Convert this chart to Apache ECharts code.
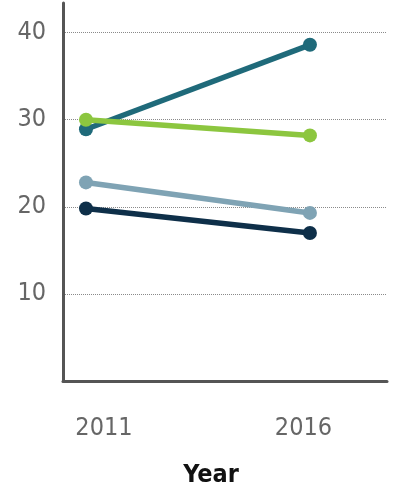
<!DOCTYPE html>
<html>
<head>
<meta charset="utf-8">
<script src="https://cdn.jsdelivr.net/npm/echarts@6/dist/echarts.min.js"></script>
<style>
html,body{margin:0;padding:0;background:#fff;}
#c{width:410px;height:489px;}
</style>
</head>
<body>
<div id="c"></div>
<script>
const years = [2011, 2016];
const yTicks = [10, 20, 30, 40];
const seriesNames = ['A', 'B', 'C', 'D'];
const tealValues = [28.9, 38.6];
const lightBlueValues = [22.8, 19.3];
const navyValues = [19.8, 17.0];
const greenValues = [30.0, 28.2];
const colors = ['#1f6a7a', '#7fa3b4', '#0e2f49', '#8cc63f'];
const allValues = [tealValues, lightBlueValues, navyValues, greenValues];

const font = "'Liberation Sans Narrow', 'DejaVu Sans Condensed', 'Roboto', sans-serif";
const chart = echarts.init(document.getElementById('c'), null, {renderer: 'canvas'});

const series = allValues.map((vals, i) => ({
  name: seriesNames[i],
  type: 'line',
  data: years.map((y, j) => [y, vals[j]]),
  symbol: 'circle',
  symbolSize: 14,
  lineStyle: {width: 5.5, color: colors[i]},
  itemStyle: {color: colors[i]},
  z: 2 + i,
  animation: false
}));

chart.setOption({
  animation: false,
  grid: {left: 63, right: 23, top: 3, bottom: 108, containLabel: false, outerBoundsMode: 'none'},
  xAxis: {
    type: 'value',
    min: 2010.487,
    max: 2017.72,
    name: 'Year',
    nameLocation: 'middle',
    nameGap: 82,
    nameTextStyle: {fontFamily: font, fontSize: 25, fontWeight: 'bold', color: '#111', padding: [0, 28, 0, 0]},
    axisLine: {show: true, lineStyle: {color: '#555', width: 3}},
    axisTick: {show: false},
    splitLine: {show: false},
    axisLabel: {
      customValues: years,
      margin: 35,
      fontFamily: font,
      fontSize: 25,
      color: '#666',
      formatter: function (v) { return v === years[0] ? '{a|' + v + '}' : '{b|' + v + '}'; },
      rich: {
        a: {fontFamily: font, fontSize: 25, color: '#666', padding: [0, 0, 0, 36]},
        b: {fontFamily: font, fontSize: 25, color: '#666', padding: [0, 13, 0, 0]}
      }
    }
  },
  yAxis: {
    type: 'value',
    min: 0,
    max: 43.4,
    interval: 10,
    axisLine: {show: true, lineStyle: {color: '#555', width: 3}},
    axisTick: {show: false},
    axisLabel: {
      margin: 17,
      fontFamily: font,
      fontSize: 25,
      color: '#666',
      showMinLabel: false,
      showMaxLabel: false,
      formatter: function (v) { return yTicks.indexOf(v) >= 0 ? String(v) : ''; }
    },
    splitLine: {
      show: true,
      lineStyle: {
        type: 'dotted',
        width: 1,
        color: ['rgba(0,0,0,0)', '#8a8a8a', '#8a8a8a', '#8a8a8a', '#8a8a8a', 'rgba(0,0,0,0)']
      }
    }
  },
  series: series
});
</script>
</body>
</html>
